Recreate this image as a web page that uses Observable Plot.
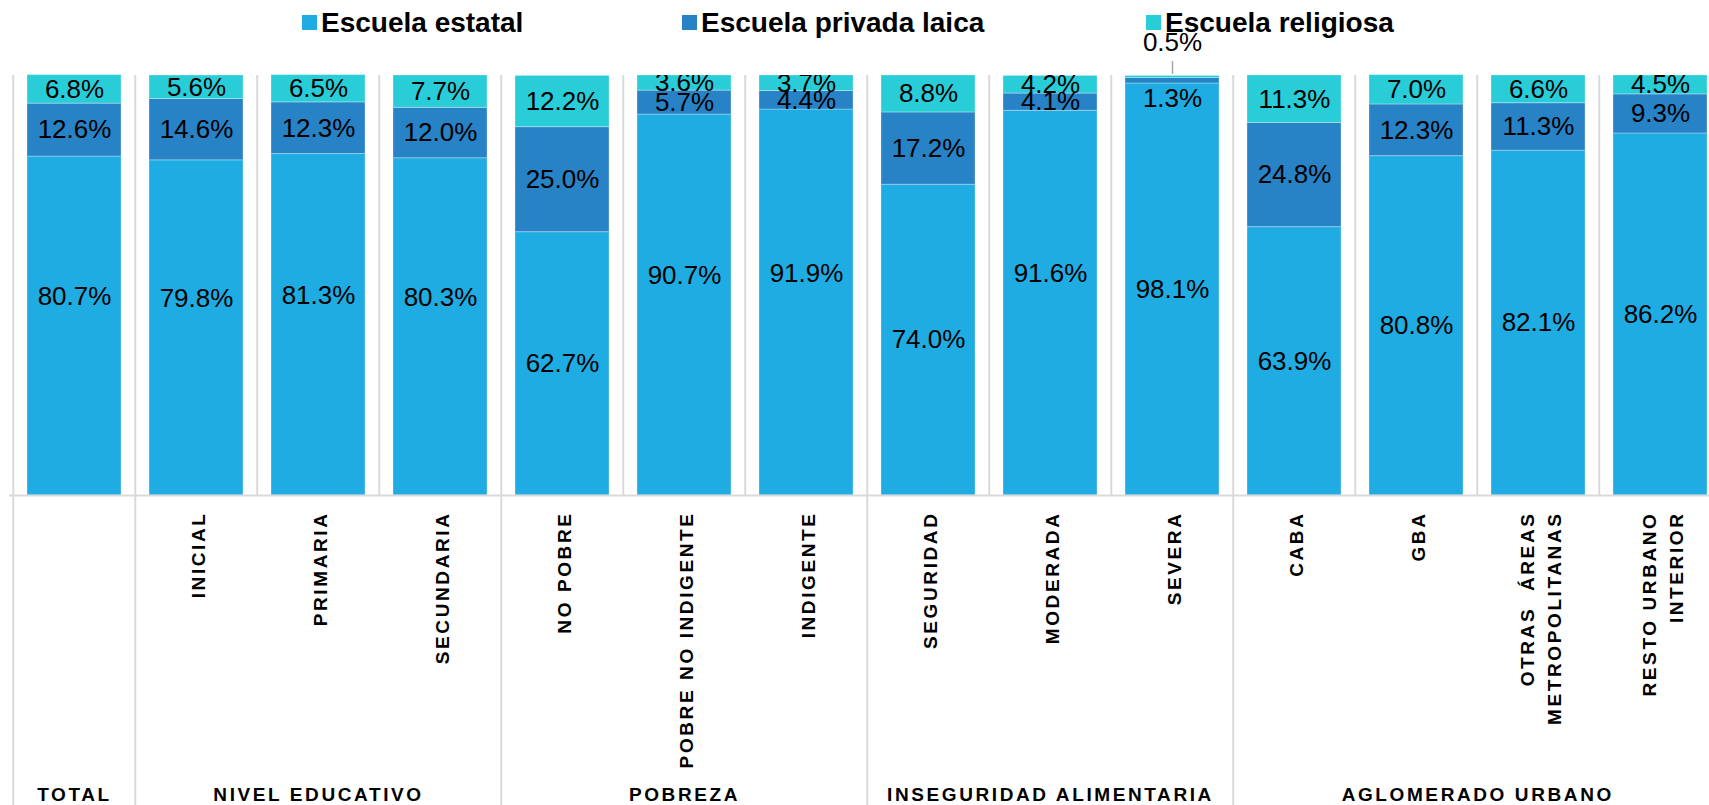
<!DOCTYPE html>
<html>
<head>
<meta charset="utf-8">
<script src="https://cdn.jsdelivr.net/npm/d3@7"></script>
<script src="https://cdn.jsdelivr.net/npm/@observablehq/plot@0.6"></script>
<style>
  body { margin: 0; background: #fff; }
  #wrap { position: relative; width: 1709px; height: 805px; overflow: hidden; font-family: "Liberation Sans", Arial, sans-serif; }
  #chart { position: absolute; left: 0; top: 0; }
  #legend { position: absolute; left: 0; top: 0; width: 1709px; height: 45px; z-index: 2; }
  .sw { position: absolute; top: 15px; width: 15px; height: 15px; }
  .lt { position: absolute; top: 9px; font-size: 28px; line-height: 28px; font-weight: bold; color: #000; white-space: nowrap; }
  g[aria-description="cat-labels"] text, g[aria-description="group-labels"] text { letter-spacing: 2.6px; }
</style>
</head>
<body>
<div id="wrap">
  <div id="chart"></div>
  <div id="legend"></div>
</div>
<script>
// ---------- data ----------
const categories = ["TOTAL", "INICIAL", "PRIMARIA", "SECUNDARIA", "NO POBRE", "POBRE NO INDIGENTE", "INDIGENTE",
  "SEGURIDAD", "MODERADA", "SEVERA", "CABA", "GBA", "OTRAS ÁREAS METROPOLITANAS", "RESTO URBANO INTERIOR"];
const tickLabels = ["", "INICIAL", "PRIMARIA", "SECUNDARIA", "NO POBRE", "POBRE NO INDIGENTE", "INDIGENTE",
  "SEGURIDAD", "MODERADA", "SEVERA", "CABA", "GBA", "OTRAS  ÁREAS\nMETROPOLITANAS", "RESTO URBANO\nINTERIOR"];
const groupOf = ["TOTAL", "NIVEL EDUCATIVO", "NIVEL EDUCATIVO", "NIVEL EDUCATIVO", "POBREZA", "POBREZA", "POBREZA",
  "INSEGURIDAD ALIMENTARIA", "INSEGURIDAD ALIMENTARIA", "INSEGURIDAD ALIMENTARIA",
  "AGLOMERADO URBANO", "AGLOMERADO URBANO", "AGLOMERADO URBANO", "AGLOMERADO URBANO"];
const series = ["Escuela estatal", "Escuela privada laica", "Escuela religiosa"];
const estatal      = [80.7, 79.8, 81.3, 80.3, 62.7, 90.7, 91.9, 74.0, 91.6, 98.1, 63.9, 80.8, 82.1, 86.2];
const privadaLaica = [12.6, 14.6, 12.3, 12.0, 25.0,  5.7,  4.4, 17.2,  4.1,  1.3, 24.8, 12.3, 11.3,  9.3];
const religiosa    = [ 6.8,  5.6,  6.5,  7.7, 12.2,  3.6,  3.7,  8.8,  4.2,  0.5, 11.3,  7.0,  6.6,  4.5];

// ---------- styling / layout ----------
const colors = ["#1FACE2", "#2782C6", "#29CDD7"];
const W = 1709, H = 805, mTop = 75, mBottom = 310, mLeft = 9;
const step = 122.5;
const xRange = [mLeft, mLeft + step * categories.length];
const padIn = 1 - 94 / step;
const gridColor = "#d9d9d9";
const fmt = v => d3.format(".1f")(v) + "%";

// label nudges (as in the original, some labels were moved by hand)
const nudges = [
  {serie: "Escuela estatal", cats: ["TOTAL", "INICIAL", "PRIMARIA", "SECUNDARIA", "POBRE NO INDIGENTE", "INDIGENTE", "MODERADA"], dy: -29},
  {serie: "Escuela privada laica", cats: ["SEVERA"], dy: 18}
];
const outside = {serie: "Escuela religiosa", cat: "SEVERA", dy: -34};

// ---------- rows ----------
const valuesBySerie = [estatal, privadaLaica, religiosa];
const rows = categories.flatMap((cat, i) => series.map((serie, j) => ({cat, serie, value: valuesBySerie[j][i]})));

const isNudged = d => nudges.some(n => n.serie === d.serie && n.cats.includes(d.cat));
const isOutside = d => d.serie === outside.serie && d.cat === outside.cat;

// group labels and boundaries
const groups = [];
groupOf.forEach((g, i) => {
  const last = groups[groups.length - 1];
  if (last && last.name === g) last.last = i; else groups.push({name: g, first: i, last: i});
});
const groupStarts = groups.map(g => categories[g.first]);
const innerBounds = categories.filter(c => !groupStarts.includes(c));
const groupsOdd = groups.filter(g => (g.first + g.last) % 2 === 0).map(g => ({name: g.name, x: categories[(g.first + g.last) / 2]}));
const groupsEven = groups.filter(g => (g.first + g.last) % 2 !== 0).map(g => ({name: g.name, x: categories[Math.floor((g.first + g.last) / 2)]}));

const labelStyle = {fontSize: 26, fill: "#000", lineAnchor: "middle"};
const stackTop = Plot.stackY2({x: "cat", y: "value"});

const chart = Plot.plot({
  width: W,
  height: H,
  marginTop: mTop,
  marginBottom: mBottom,
  marginLeft: mLeft,
  marginRight: 0,
  style: {fontFamily: "'Liberation Sans', Arial, sans-serif", background: "transparent", overflow: "hidden"},
  x: {domain: categories, range: xRange, paddingInner: padIn, paddingOuter: padIn / 2, axis: null},
  y: {domain: [0, 100], axis: null},
  color: {domain: series, range: colors},
  marks: [
    Plot.ruleX(innerBounds, {x: d => d, dx: -step / 2, stroke: gridColor, strokeWidth: 2}),
    Plot.ruleX(groupStarts, {x: d => d, dx: -step / 2, insetBottom: -mBottom, stroke: gridColor, strokeWidth: 2}),
    Plot.barY(rows, {x: "cat", y: "value", fill: "serie", stroke: "#ffffff", strokeOpacity: 0.3, strokeWidth: 1}),
    Plot.ruleY([0], {stroke: gridColor, strokeWidth: 2}),
    // value labels
    Plot.text(rows, Plot.filter(d => !isNudged(d) && !isOutside(d),
      Plot.stackY({x: "cat", y: "value", text: d => fmt(d.value), ...labelStyle, clip: true}))),
    ...nudges.map(n => Plot.text(rows, Plot.filter(d => n.serie === d.serie && n.cats.includes(d.cat),
      Plot.stackY({x: "cat", y: "value", text: d => fmt(d.value), ...labelStyle, dy: n.dy})))),
    Plot.text(rows, Plot.filter(isOutside,
      Plot.stackY({x: "cat", y: "value", text: d => fmt(d.value), ...labelStyle, dy: outside.dy}))),
    // leader line for the outside label
    Plot.ruleX(rows, Plot.filter(isOutside, {...stackTop, y: undefined, y1: stackTop.y, y2: stackTop.y, insetTop: -14.5, insetBottom: 1.5, stroke: "#a6a6a6", strokeWidth: 1.5})),
    // category labels (rotated)
    Plot.text(categories, {x: d => d, text: (d, i) => tickLabels[i], frameAnchor: "bottom", dy: 16, rotate: -90,
      textAnchor: "end", lineAnchor: "middle", lineHeight: 1.45, fontSize: 19, fontWeight: "bold", fill: "#000",
      ariaDescription: "cat-labels"}),
    // group labels
    Plot.text(groupsOdd, {x: "x", text: "name", frameAnchor: "bottom", dy: 299, lineAnchor: "middle",
      fontSize: 19, fontWeight: "bold", fill: "#000", ariaDescription: "group-labels"}),
    Plot.text(groupsEven, {x: "x", text: "name", frameAnchor: "bottom", dy: 299, dx: step / 2, lineAnchor: "middle",
      fontSize: 19, fontWeight: "bold", fill: "#000", ariaDescription: "group-labels"})
  ]
});
document.getElementById("chart").appendChild(chart);

// legend
const legendPos = [[302, 321], [682, 701], [1146, 1165]];
const legend = document.getElementById("legend");
series.forEach((s, i) => {
  const sw = document.createElement("div");
  sw.className = "sw";
  sw.style.left = legendPos[i][0] + "px";
  sw.style.background = colors[i];
  const t = document.createElement("div");
  t.className = "lt";
  t.style.left = legendPos[i][1] + "px";
  t.textContent = s;
  legend.appendChild(sw);
  legend.appendChild(t);
});
</script>
</body>
</html>
